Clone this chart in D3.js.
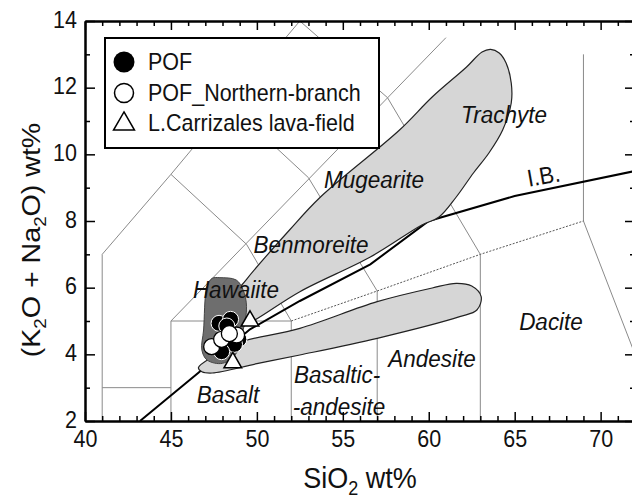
<!DOCTYPE html>
<html><head><meta charset="utf-8">
<script src="https://cdn.jsdelivr.net/npm/d3@7/dist/d3.min.js"></script>
<style>
body{margin:0;background:#fff;}
svg{display:block;font-family:"Liberation Sans",Arial,Helvetica,sans-serif;}
</style></head><body>
<svg id="chart" width="632" height="500"></svg>
<script>
// ---------------- data ----------------
const xMajorTicks = [40,45,50,55,60,65,70];
const yMajorTicks = [2,4,6,8,10,12,14];
const xMinorTicks = [41,42,43,44,46,47,48,49,51,52,53,54,56,57,58,59,61,62,63,64,66,67,68,69,71];
const yMinorTicks = [3,5,7,9,11,13];

// TAS field boundaries (SiO2, Na2O+K2O)
const tasLines = [
  [[41,0],[41,7],[45,9.4],[48.4,11.5],[52.5,14]],
  [[41,3],[45,3]],
  [[45,0],[45,5],[52,5],[52,0]],
  [[45,9.4],[49.4,7.3],[52,5]],
  [[45,5],[61,13.5]],
  [[48.4,11.5],[53,9.3],[57,5.9],[57,0]],
  [[52.5,14],[57.6,11.7],[63,7],[63,0]],
  [[69,13],[69,8],[75,0]]
];
const tasDotted = [[52,5],[57,5.9],[63,7],[69,8]];
const ibLine = [[43.2,2.0],[46.6,3.45],[49.6,4.75],[52.5,5.6],[56.6,6.7],[60,8.0],[65,8.75],[72,9.5]];

// shaded fields
const upperField = [[48.6,4.75],[48.5,5.6],[49.4,6.25],[51.9,7.73],[53.7,8.72],[58.3,10.73],[60.2,11.72],[62.2,12.62],[63.1,13.07],[63.6,13.15],[64.1,13.04],[64.5,12.74],[64.8,12.14],[64.8,11.54],[64.3,10.73],[63.5,10.04],[62.6,9.44],[61.6,8.72],[60.6,8.12],[59.6,7.88],[56.6,6.92],[52.5,5.88],[49.6,4.95]];
const lowerField = [[46.6,3.6],[47.5,3.95],[48.8,4.33],[52.5,4.78],[57.0,5.58],[60.2,5.99],[61.6,6.13],[62.5,6.05],[63.05,5.73],[62.8,5.33],[61.8,5.13],[57.0,4.48],[52.5,3.98],[50.0,3.72],[47.4,3.44],[46.8,3.48]];
const pofField = [[47.85,6.3],[48.8,6.23],[49.2,5.93],[49.4,5.43],[49.2,4.73],[48.8,4.03],[48.0,3.73],[47.1,3.83],[46.8,4.13],[46.9,4.73],[47.1,6.03],[47.4,6.28]];

// samples
const pofPts = [[47.8,4.93],[48.47,5.05],[48.25,4.85],[48.95,4.45],[48.7,4.3],[47.95,4.08]];
const northPts = [[47.37,4.23],[47.95,4.45],[48.82,4.58],[48.4,4.62]];
const carrizalesPts = [[49.6,5.0],[48.6,3.75]];

const legendLabels = ["POF","POF_Northern-branch","L.Carrizales lava-field"];
const fieldLabels = [
  {t:"Trachyte", x:504, y:123},
  {t:"Mugearite", x:374, y:188},
  {t:"Benmoreite", x:311, y:253},
  {t:"Hawaiite", x:236, y:298},
  {t:"Dacite", x:551, y:330},
  {t:"Andesite", x:432, y:367},
  {t:"Basaltic-", x:337, y:383},
  {t:"-andesite", x:339, y:415},
  {t:"Basalt", x:228, y:403}
];

// ---------------- drawing ----------------
const S = 1.1; // vertical glyph stretch
const svg = d3.select("#chart");
const x = d3.scaleLinear().domain([40,72]).range([85,635]);
const y = d3.scaleLinear().domain([2,14]).range([421,21]);

svg.append("rect").attr("width",632).attr("height",500).attr("fill","#fff");
svg.append("defs").append("clipPath").attr("id","clip").append("rect")
  .attr("x",x(40)).attr("y",y(14)).attr("width",x(72)-x(40)).attr("height",y(2)-y(14));

const plot = svg.append("g").attr("clip-path","url(#clip)");
const line = d3.line().x(d=>x(d[0])).y(d=>y(d[1]));
const closed = d3.line().x(d=>x(d[0])).y(d=>y(d[1])).curve(d3.curveCatmullRomClosed.alpha(0.5));

plot.selectAll(".tas").data(tasLines).join("path").attr("class","tas")
  .attr("d",line).attr("fill","none").attr("stroke","#8a8a8a").attr("stroke-width",1);
plot.append("path").datum(tasDotted).attr("d",line).attr("fill","none")
  .attr("stroke","#444").attr("stroke-width",0.9).attr("stroke-dasharray","2,1.5");
plot.append("path").datum(ibLine).attr("d",line).attr("fill","none")
  .attr("stroke","#000").attr("stroke-width",2);

plot.append("path").datum(upperField).attr("d",closed).attr("fill","#d6d6d6").attr("stroke","#222").attr("stroke-width",1.2);
plot.append("path").datum(lowerField).attr("d",closed).attr("fill","#d6d6d6").attr("stroke","#222").attr("stroke-width",1.2);
plot.append("path").datum(pofField).attr("d",closed).attr("fill","#6e6e6e").attr("stroke","#444").attr("stroke-width",1);

// field labels
function stretchedText(parent, tx, ty, size, anchor, italic){
  return parent.append("text")
    .attr("transform",`translate(${tx},${ty}) scale(1,${S})`)
    .attr("text-anchor",anchor).attr("font-size",size)
    .attr("font-style",italic?"italic":"normal").attr("fill","#111");
}
fieldLabels.forEach(d=>{ stretchedText(svg,d.x,d.y,22.5,"middle",true).text(d.t); });
svg.append("text").attr("transform","translate(545,184) rotate(-10) scale(1,1.1)")
  .attr("text-anchor","middle").attr("font-size",22).attr("fill","#111").text("I.B.");

// samples
plot.selectAll(".pof").data(pofPts).join("circle").attr("class","pof")
  .attr("cx",d=>x(d[0])).attr("cy",d=>y(d[1])).attr("r",8)
  .attr("fill","#000").attr("stroke","#fff").attr("stroke-width",1);
plot.selectAll(".north").data(northPts).join("circle").attr("class","north")
  .attr("cx",d=>x(d[0])).attr("cy",d=>y(d[1])).attr("r",8)
  .attr("fill","#fff").attr("stroke","#000").attr("stroke-width",1.3);
const tri = d3.symbol().type(d3.symbolTriangle).size(135);
plot.selectAll(".carr").data(carrizalesPts).join("path").attr("class","carr")
  .attr("transform",d=>`translate(${x(d[0])},${y(d[1])})`).attr("d",tri)
  .attr("fill","#fff").attr("stroke","#000").attr("stroke-width",1.5);

// axes
function styleAxis(g){
  g.select(".domain").attr("stroke","#000").attr("stroke-width",2);
  g.selectAll(".tick line").attr("stroke","#000").attr("stroke-width",1.5);
}
const bottomMaj = d3.axisBottom(x).tickValues(xMajorTicks).tickSizeInner(-9).tickSizeOuter(0).tickFormat(d3.format("d"));
const bottomMin = d3.axisBottom(x).tickValues(xMinorTicks).tickSizeInner(-5).tickSizeOuter(0).tickFormat("");
const topMaj = d3.axisTop(x).tickValues(xMajorTicks).tickSizeInner(-9).tickSizeOuter(0).tickFormat("");
const topMin = d3.axisTop(x).tickValues(xMinorTicks).tickSizeInner(-5).tickSizeOuter(0).tickFormat("");
const leftMaj = d3.axisLeft(y).tickValues(yMajorTicks).tickSizeInner(-10).tickSizeOuter(0).tickFormat(d3.format("d"));
const leftMin = d3.axisLeft(y).tickValues(yMinorTicks).tickSizeInner(-5).tickSizeOuter(0).tickFormat("");
const rightMaj = d3.axisRight(y).tickValues(yMajorTicks).tickSizeInner(-10).tickSizeOuter(0).tickFormat("");
const rightMin = d3.axisRight(y).tickValues(yMinorTicks).tickSizeInner(-5).tickSizeOuter(0).tickFormat("");

const gb = svg.append("g").attr("transform",`translate(0,${y(2)})`);
gb.append("g").call(bottomMin).call(styleAxis);
const gbm = gb.append("g").call(bottomMaj).call(styleAxis);
gbm.selectAll("text").attr("y",null).attr("dy",null)
  .attr("transform",`translate(0,26) scale(1,${S})`).attr("font-size",21.5)
  .attr("font-family","'Liberation Sans',Arial,sans-serif").attr("fill","#111");

const gt = svg.append("g").attr("transform",`translate(0,${y(14)})`);
gt.append("g").call(topMin).call(styleAxis);
gt.append("g").call(topMaj).call(styleAxis);

const gl = svg.append("g").attr("transform",`translate(${x(40)},0)`);
gl.append("g").call(leftMin).call(styleAxis);
const glm = gl.append("g").call(leftMaj).call(styleAxis);
glm.selectAll("text").attr("x",null).attr("dy",null)
  .attr("transform",`translate(-8,6) scale(1,${S})`).attr("font-size",21.5)
  .attr("font-family","'Liberation Sans',Arial,sans-serif").attr("fill","#111");

const gr = svg.append("g").attr("transform",`translate(${x(72)},0)`);
gr.append("g").call(rightMin).call(styleAxis);
gr.append("g").call(rightMaj).call(styleAxis);

// axis titles
const xt = svg.append("text").attr("transform",`translate(${(x(40)+x(72))/2},488) scale(1,${S})`)
  .attr("text-anchor","middle").attr("font-size",27).attr("fill","#111");
xt.append("tspan").text("SiO");
xt.append("tspan").attr("font-size",18).attr("dy",6).text("2");
xt.append("tspan").attr("dy",-6).text(" wt%");

const yt = svg.append("text").attr("transform",`translate(40,240) rotate(-90) scale(${S},1)`)
  .attr("text-anchor","middle").attr("font-size",26).attr("fill","#111");
yt.append("tspan").text("(K");
yt.append("tspan").attr("font-size",17).attr("dy",6).text("2");
yt.append("tspan").attr("dy",-6).text("O + Na");
yt.append("tspan").attr("font-size",17).attr("dy",6).text("2");
yt.append("tspan").attr("dy",-6).text("O) wt%");

// legend
const lg = svg.append("g");
lg.append("rect").attr("x",105).attr("y",38).attr("width",274).attr("height",110)
  .attr("fill","#fff").attr("stroke","#000").attr("stroke-width",2);
const rowsY = [62,93,123];
lg.append("circle").attr("cx",124).attr("cy",rowsY[0]).attr("r",10.5).attr("fill","#000");
lg.append("circle").attr("cx",124).attr("cy",rowsY[1]).attr("r",9.5).attr("fill","#fff").attr("stroke","#000").attr("stroke-width",1.5);
lg.append("path").attr("transform",`translate(124,${rowsY[2]+1})`)
  .attr("d",d3.symbol().type(d3.symbolTriangle).size(190)).attr("fill","#fff").attr("stroke","#000").attr("stroke-width",1.5);
legendLabels.forEach((t,i)=>{
  stretchedText(lg,148,rowsY[i]+8,21.5,"start",false).text(t);
});
</script>
</body></html>
